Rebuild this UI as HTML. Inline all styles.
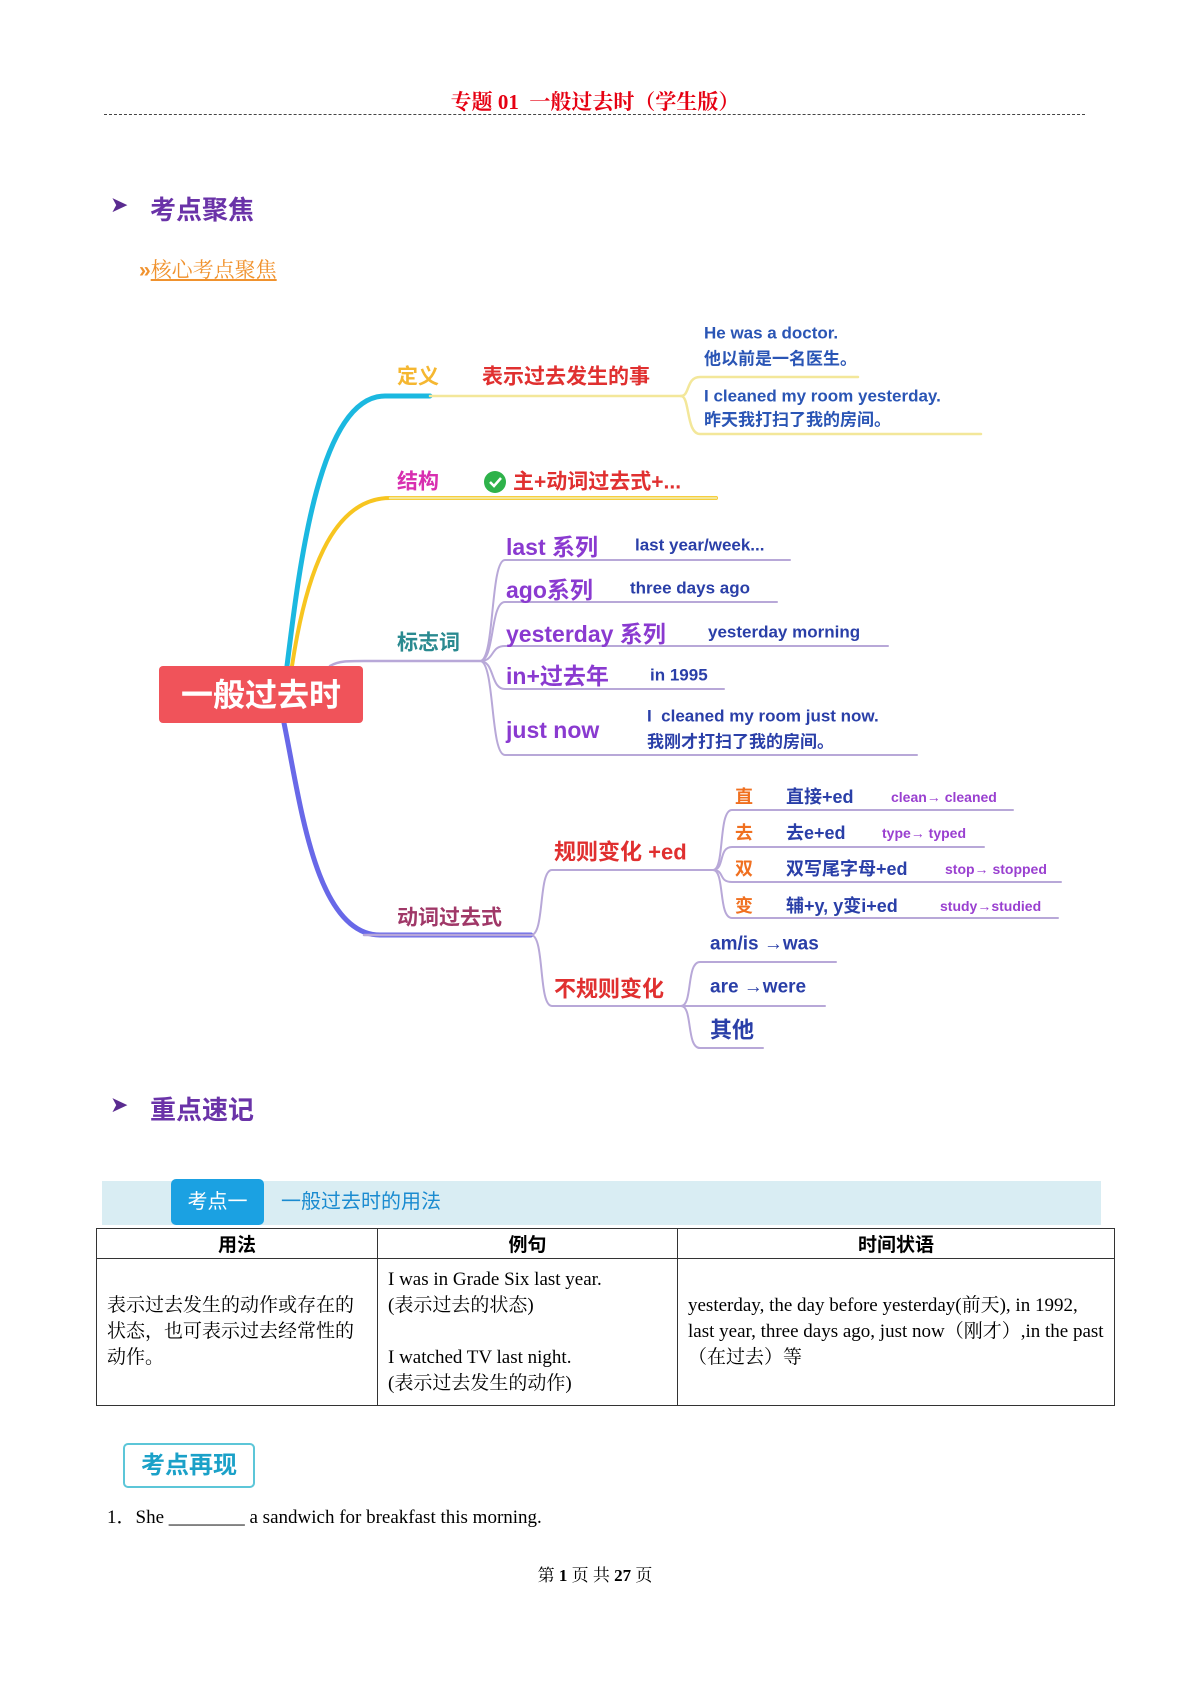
<!DOCTYPE html>
<html><head><meta charset="utf-8"><style>
body{margin:0;background:#fff;}
#pg{position:relative;width:1190px;height:1682px;overflow:hidden;font-family:"Liberation Sans","Noto Sans CJK SC",sans-serif;}
.a{position:absolute;white-space:nowrap;}
svg text{font-family:"Liberation Sans","Noto Sans CJK SC",sans-serif;font-weight:bold;dominant-baseline:central;}
table{position:absolute;left:96px;top:1228px;width:1018px;border-collapse:collapse;table-layout:fixed;font-family:"Liberation Serif","Noto Serif CJK SC",serif;font-size:19px;}
td{border:1px solid #333;vertical-align:middle;padding:0 10px;line-height:26px;}
th{border:1.5px solid #333;height:27px;font-family:"Liberation Sans","Noto Sans CJK SC",sans-serif;font-size:19px;}
</style></head><body><div id="pg">
<div class="a" style="left:0;width:1190px;text-align:center;top:86px;font-size:21px;color:#e60012;font-weight:bold;font-family:'Liberation Serif','Noto Serif CJK SC',serif;">专题 01&nbsp; 一般过去时（学生版）</div>
<div class="a" style="left:104px;top:114px;width:981px;border-top:1px dashed #444;"></div>
<div class="a" style="left:110px;top:192px;font-size:22px;color:#5a2b90;">➤</div>
<div class="a" style="left:150px;top:190px;font-size:26px;font-weight:bold;color:#6a33a8;">考点聚焦</div>
<div class="a" style="left:139px;top:254px;font-size:21px;color:#f0922e;"><span style="font-weight:bold">»</span><span style="text-decoration:underline;font-family:'Liberation Serif','Noto Serif CJK SC',serif;">核心考点聚焦</span></div>

<svg class="a" style="left:0;top:0" width="1190" height="1100">
<g fill="none" stroke-linecap="round">
<path d="M287,666 C300,560 320,396 385,396 L430,396" stroke="#1bb8e0" stroke-width="5"/>
<path d="M430,396 L681,396" stroke="#f3e79a" stroke-width="2.5"/>
<path d="M681,396 C690,396 686,377 700,377 L858,377" stroke="#f3e79a" stroke-width="2.5"/>
<path d="M681,396 C690,396 686,434 700,434 L981,434" stroke="#f3e79a" stroke-width="2.5"/>
<path d="M292,666 C305,580 330,498 390,498 L716,498" stroke="#f7c520" stroke-width="4"/>
<path d="M390,498 L716,498" stroke="#f3e79a" stroke-width="2.5"/>
<path d="M330,666 C340,660 350,661 380,661 L480,661" stroke="#b8a8d8" stroke-width="2.5"/>
<g stroke="#b8a8d8" stroke-width="2">
<path d="M480,661 C495,661 490,560 505,560 L790,560"/>
<path d="M480,661 C495,661 490,602 505,602 L777,602"/>
<path d="M480,661 C495,661 490,646 505,646 L888,646"/>
<path d="M480,661 C495,661 490,689 505,689 L724,689"/>
<path d="M480,661 C495,661 490,755 505,755 L917,755"/>
</g>
<path d="M284,723 C300,800 315,935 380,935 L531,935" stroke="#6868e8" stroke-width="5"/>
<path d="M364,935 L531,935" stroke="#b8a8d8" stroke-width="2.5"/>
<g stroke="#b8a8d8" stroke-width="2">
<path d="M531,935 C545,935 538,870 552,870 L713,870"/>
<path d="M531,935 C545,935 538,1006 552,1006 L681,1006"/>
<path d="M713,870 C725,870 718,810 732,810 L1013,810"/>
<path d="M713,870 C725,870 718,847 732,847 L984,847"/>
<path d="M713,870 C725,870 718,882 732,882 L1061,882"/>
<path d="M713,870 C725,870 718,918 732,918 L1058,918"/>
<path d="M681,1006 C693,1006 686,962 700,962 L836,962"/>
<path d="M681,1006 C693,1006 686,1006 700,1006 L825,1006"/>
<path d="M681,1006 C693,1006 686,1048 700,1048 L763,1048"/>
</g>
</g>
<rect x="159" y="666" width="204" height="57" rx="4" fill="#f0535a"/>
<text x="261" y="695" fill="#fff" font-size="32" text-anchor="middle">一般过去时</text>
<text x="397" y="377" fill="#f5b731" font-size="21">定义</text>
<text x="482" y="377" fill="#e03030" font-size="21">表示过去发生的事</text>
<text x="704" y="333" fill="#2a55b5" font-size="17">He was a doctor.</text>
<text x="704" y="359" fill="#2a55b5" font-size="17">他以前是一名医生。</text>
<text x="704" y="396" fill="#2a55b5" font-size="17">I cleaned my room yesterday.</text>
<text x="704" y="420" fill="#2a55b5" font-size="17">昨天我打扫了我的房间。</text>
<text x="397" y="482" fill="#d82fb0" font-size="21">结构</text>
<circle cx="495" cy="482" r="11" fill="#2eb24a"/>
<path d="M490,482 l4,4 l7,-8" stroke="#fff" stroke-width="2.5" fill="none"/>
<text x="513" y="482" fill="#e03030" font-size="21">主+动词过去式+...</text>
<text x="397" y="643" fill="#2a8a90" font-size="21">标志词</text>
<g fill="#8a3ad0" font-size="23">
<text x="506" y="547">last 系列</text>
<text x="506" y="590">ago系列</text>
<text x="506" y="634">yesterday 系列</text>
<text x="506" y="676">in+过去年</text>
<text x="506" y="730">just now</text>
</g>
<g fill="#2a3fa8" font-size="17">
<text x="635" y="545">last year/week...</text>
<text x="630" y="588">three days ago</text>
<text x="708" y="632">yesterday morning</text>
<text x="650" y="675">in 1995</text>
<text x="647" y="716">I&#160; cleaned my room just now.</text>
<text x="647" y="742">我刚才打扫了我的房间。</text>
</g>
<text x="397" y="918" fill="#a03868" font-size="21">动词过去式</text>
<text x="554" y="852" fill="#e03030" font-size="22">规则变化 +ed</text>
<text x="554" y="989" fill="#e03030" font-size="22">不规则变化</text>
<g fill="#f07020" font-size="18">
<text x="735" y="797">直</text><text x="735" y="833">去</text><text x="735" y="869">双</text><text x="735" y="906">变</text>
</g>
<g fill="#2a3fa8" font-size="18">
<text x="786" y="797">直接+ed</text><text x="786" y="833">去e+ed</text><text x="786" y="869">双写尾字母+ed</text><text x="786" y="906">辅+y, y变i+ed</text>
</g>
<g fill="#9a40d0" font-size="14">
<text x="891" y="797">clean→ cleaned</text><text x="882" y="833">type→ typed</text><text x="945" y="869">stop→ stopped</text><text x="940" y="906">study→studied</text>
</g>
<g fill="#2a3fa8" font-size="19">
<text x="710" y="944">am/is →was</text><text x="710" y="987">are →were</text>
</g>
<text x="710" y="1030" fill="#2a3fa8" font-size="22" font-weight="normal">其他</text>
</svg>

<div class="a" style="left:110px;top:1092px;font-size:22px;color:#5a2b90;">➤</div>
<div class="a" style="left:150px;top:1090px;font-size:26px;font-weight:bold;color:#6a33a8;">重点速记</div>
<div class="a" style="left:102px;top:1181px;width:999px;height:44px;background:#d9edf3;"></div>
<div class="a" style="left:171px;top:1179px;width:93px;height:46px;background:#1ba1e2;border-radius:5px;color:#fff;font-size:20px;line-height:46px;text-align:center;">考点一</div>
<div class="a" style="left:281px;top:1185px;font-size:20px;color:#1a8bd0;">一般过去时的用法</div>
<table>
<colgroup><col style="width:281px"><col style="width:300px"><col style="width:437px"></colgroup>
<tr><th>用法</th><th>例句</th><th>时间状语</th></tr>
<tr style="height:147px"><td>表示过去发生的动作或存在的状态，也可表示过去经常性的动作。</td>
<td>I was in Grade Six last year.<br>(表示过去的状态)<br><br>I watched TV last night.<br>(表示过去发生的动作)</td>
<td>yesterday, the day before yesterday(前天), in 1992, last year, three days ago, just now（刚才）,in the past（在过去）等</td></tr>
</table>
<div class="a" style="left:123px;top:1443px;width:128px;height:41px;border:2px solid #5cc6d8;border-radius:5px;color:#1ba1c8;font-size:24px;font-weight:bold;line-height:41px;text-align:center;">考点再现</div>
<div class="a" style="left:107px;top:1502px;font-size:19px;font-family:'Liberation Serif','Noto Serif CJK SC',serif;">1．She ________ a sandwich for breakfast this morning.</div>
<div class="a" style="left:0;width:1190px;text-align:center;top:1561px;font-size:17px;font-family:'Liberation Serif','Noto Serif CJK SC',serif;">第 <b>1</b> 页 共 <b>27</b> 页</div>
</div></body></html>
